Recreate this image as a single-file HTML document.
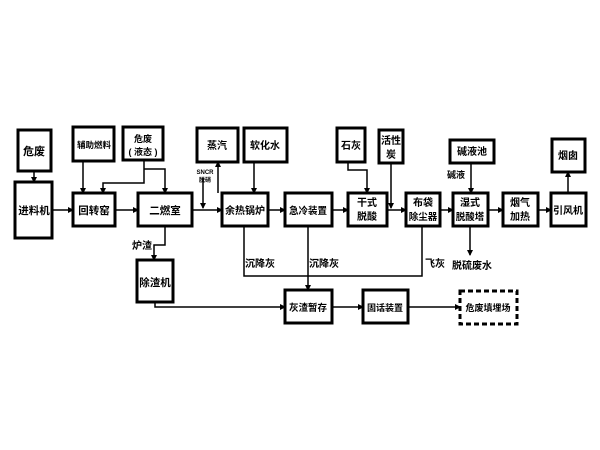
<!DOCTYPE html>
<html><head><meta charset="utf-8"><style>
html,body{margin:0;padding:0;background:#fff;width:600px;height:450px;overflow:hidden}
svg text{font-family:"Liberation Sans","Noto Sans CJK SC",sans-serif;font-weight:bold;fill:#000;text-anchor:middle}
</style></head><body>
<svg width="600" height="450" viewBox="0 0 600 450" xmlns="http://www.w3.org/2000/svg">
<defs><marker id="a" markerWidth="6" markerHeight="6" refX="5" refY="3" orient="auto" markerUnits="userSpaceOnUse"><path d="M0,0 L6,3 L0,6 z" fill="#000"/></marker></defs>
<g fill="none" stroke="#000" stroke-width="3">
<rect x="18" y="130" width="33" height="41"/>
<rect x="15" y="182" width="37" height="56"/>
<rect x="73" y="127" width="41" height="34"/>
<rect x="123" y="127" width="40" height="33"/>
<rect x="73" y="193" width="42" height="33"/>
<rect x="138" y="193" width="54" height="33"/>
<rect x="197" y="128" width="41" height="34"/>
<rect x="244" y="128" width="43" height="34"/>
<rect x="222" y="193" width="46" height="33"/>
<rect x="285" y="193" width="47" height="33"/>
<rect x="137" y="260" width="36" height="42"/>
<rect x="285" y="290" width="47" height="33"/>
<rect x="337" y="128" width="28" height="34"/>
<rect x="379" y="130" width="24" height="33"/>
<rect x="348" y="193" width="39" height="33"/>
<rect x="406" y="193" width="34" height="33"/>
<rect x="453" y="193" width="35" height="33"/>
<rect x="450" y="140" width="44" height="23"/>
<rect x="503" y="193" width="35" height="33"/>
<rect x="551" y="193" width="35" height="33"/>
<rect x="552" y="139" width="33" height="33"/>
<rect x="363" y="290" width="45" height="33"/>
<rect x="460" y="291" width="57" height="33" stroke-dasharray="5,3"/>
</g>
<g fill="none" stroke="#000" stroke-width="1.5" marker-end="url(#a)">
<path d="M34 171 V182"/>
<path d="M52 210 H73"/>
<path d="M115 210 H138"/>
<path d="M192 210 H222"/>
<path d="M268 210 H285"/>
<path d="M332 210 H348"/>
<path d="M387 210 H406"/>
<path d="M440 210 H453"/>
<path d="M488 210 H503"/>
<path d="M538 210 H551"/>
<path d="M83 161 V193"/>
<path d="M144 160 V183 H103 V193"/>
<path d="M144 169 H165 V193"/>
<path d="M203 178 V208"/>
<path d="M218 193 V162"/>
<path d="M254 162 V193"/>
<path d="M165 226 V245 H154 V260"/>
<path d="M155 302 V307 H285"/>
<path d="M308 226 V290"/>
<path d="M332 307 H363"/>
<path d="M408 307 H460"/>
<path d="M348 162 V170 H367 V193"/>
<path d="M391 163 V208"/>
<path d="M471 163 V193"/>
<path d="M470 226 V255"/>
<path d="M568 193 V172"/>
</g>
<path d="M244 226 V276 H422 V226" fill="none" stroke="#000" stroke-width="1.5"/>
<g font-size="11">
<text x="34" y="155">危废</text>
<text x="34" y="214" font-size="10.5">进料机</text>
<text x="94" y="148" font-size="8.5">辅助燃料</text>
<text x="143" y="142" font-size="9">危废</text>
<text x="143" y="155" font-size="9">( 液态 )</text>
<text x="94" y="214" font-size="10.5">回转窑</text>
<text x="165" y="214" font-size="10.5">二燃室</text>
<text x="217" y="149" font-size="10">蒸汽</text>
<text x="265" y="149" font-size="10">软化水</text>
<text x="245" y="214" font-size="10">余热锅炉</text>
<text x="308" y="214" font-size="9.5">急冷装置</text>
<text x="155" y="286" font-size="10.5">除渣机</text>
<text x="142" y="249" font-size="10">炉渣</text>
<text x="308" y="311" font-size="9.5">灰渣暂存</text>
<text x="351" y="149" font-size="10">石灰</text>
<text x="391" y="144" font-size="10">活性</text>
<text x="391" y="158" font-size="10">炭</text>
<text x="367" y="206" font-size="10">干式</text>
<text x="367" y="220" font-size="10">脱酸</text>
<text x="423" y="206" font-size="10">布袋</text>
<text x="423" y="220" font-size="9.5">除尘器</text>
<text x="470" y="206" font-size="10">湿式</text>
<text x="470" y="220" font-size="9.5">脱酸塔</text>
<text x="472" y="155" font-size="10">碱液池</text>
<text x="456" y="178" font-size="9">碱液</text>
<text x="520" y="206" font-size="10">烟气</text>
<text x="520" y="220" font-size="10">加热</text>
<text x="568" y="214" font-size="10">引风机</text>
<text x="568" y="159" font-size="10">烟囱</text>
<text x="385" y="311" font-size="9">固话装置</text>
<text x="488" y="311" font-size="9">危废填埋场</text>
<text x="205" y="174" font-size="6">SNCR</text>
<text x="205" y="182" font-size="6">脱硝</text>
<text x="260" y="267" font-size="10">沉降灰</text>
<text x="324" y="267" font-size="10">沉降灰</text>
<text x="435" y="267" font-size="10">飞灰</text>
<text x="472" y="269" font-size="10">脱硫废水</text>
</g>
</svg>
</body></html>
